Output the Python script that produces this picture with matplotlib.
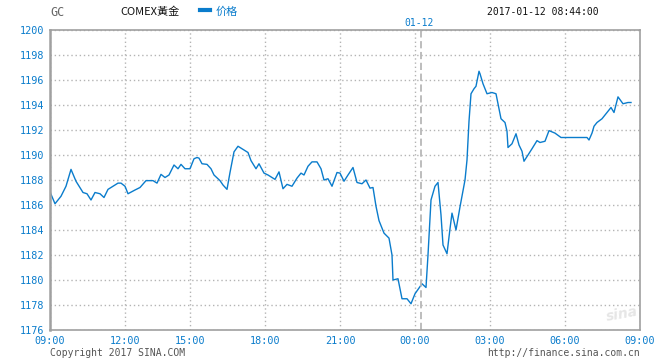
import matplotlib.pyplot as plt

# position along the session axis (0 = 09:00, 590 = next 09:00), price
pos = [0, 5, 11, 16, 21, 26, 33, 37, 41, 45, 50, 54, 58, 63, 68, 71, 75, 78, 85, 90,
       96, 103, 107, 111, 115, 119, 124, 128, 131, 135, 140, 144, 147, 149, 152, 157, 161, 164, 170, 173,
       177, 180, 184, 188, 193, 198, 201, 206, 209, 214, 218, 225, 229, 233, 237, 242, 247, 251, 254, 258,
       262, 267, 271, 274, 278, 282, 287, 290, 294, 298, 303, 307, 312, 316, 320, 323, 326, 329, 334, 339,
       342, 343, 348, 352, 357, 361, 365, 372, 376, 378, 381, 385, 388, 391, 393, 397, 400, 402, 406, 410,
       415, 417, 419, 421, 424, 426, 429, 430, 433, 437, 442, 446, 448, 451, 455, 457, 458, 462, 466, 469,
       472, 474, 478, 482, 487, 490, 495, 499, 505, 511, 537, 539, 542, 544, 547, 552, 555, 561, 564, 568,
       573, 578, 581]
price = [1187.05, 1186.1, 1186.7, 1187.5, 1188.85, 1187.9, 1187.0, 1186.9, 1186.4, 1187.0,
         1186.9, 1186.6, 1187.25, 1187.5, 1187.75, 1187.75, 1187.5, 1186.9, 1187.2, 1187.4,
         1187.95, 1187.95, 1187.75, 1188.45, 1188.2, 1188.4, 1189.2, 1188.9, 1189.25, 1188.9,
         1188.9, 1189.7, 1189.8, 1189.75, 1189.3, 1189.25, 1188.9, 1188.4, 1187.95, 1187.6,
         1187.25, 1188.6, 1190.25, 1190.7, 1190.45, 1190.2, 1189.55, 1188.9, 1189.3, 1188.55,
         1188.4, 1188.05, 1188.65, 1187.3, 1187.65, 1187.5, 1188.15, 1188.55, 1188.4, 1189.1,
         1189.45, 1189.45, 1188.9, 1188.0, 1188.1, 1187.5, 1188.6, 1188.55, 1187.9, 1188.4,
         1189.0, 1187.8, 1187.7, 1188.0, 1187.35, 1187.4, 1185.9, 1184.75, 1183.75, 1183.35,
         1182.0, 1180.0, 1180.1, 1178.5, 1178.5, 1178.1, 1178.9, 1179.7, 1179.4, 1182.0,
         1186.4, 1187.5, 1187.8, 1185.2, 1182.8, 1182.1, 1184.1, 1185.35, 1184.0, 1185.85,
         1188.0, 1189.6, 1192.7, 1194.9, 1195.3, 1195.5, 1196.7, 1196.5, 1195.7, 1194.9,
         1195.0, 1194.9, 1194.1, 1192.9, 1192.6, 1191.9, 1190.6, 1190.9, 1191.7, 1190.8,
         1190.3, 1189.5, 1190.0, 1190.5, 1191.15, 1191.0, 1191.1, 1191.95, 1191.75, 1191.4,
         1191.4, 1191.2, 1191.75, 1192.3, 1192.6, 1192.9, 1193.2, 1193.8, 1193.4, 1194.65,
         1194.1, 1194.2, 1194.2]

tick_pos = [0, 75, 140, 215, 290, 365, 440, 515, 590]
tick_labels = ["09:00", "12:00", "15:00", "18:00", "21:00", "00:00", "03:00", "06:00", "09:00"]
y_ticks = list(range(1176, 1201, 2))
date_pos = 370.5

blue = "#0a7ccc"
mono = "DejaVu Sans Mono"
cjk = ["Noto Sans CJK SC", "DejaVu Sans"]

fig = plt.figure(figsize=(6.6, 3.6), dpi=100)
ax = fig.add_axes([50 / 660, 30 / 360, 590 / 660, 300 / 360])

ax.plot(pos, price, color=blue, lw=1.0)
ax.axvline(date_pos, color="#b8b8b8", lw=1.3, ls=(0, (4, 2)))

ax.set_xlim(0, 590)
ax.set_ylim(1176, 1200)
ax.set_xticks(tick_pos)
ax.set_xticklabels(tick_labels)
ax.set_yticks(y_ticks)
ax.grid(True, color="#b4b4b4", ls=(0, (1, 2)), lw=1.0)
ax.tick_params(length=0, labelsize=7.3, labelcolor=blue, pad=4)
for lab in ax.get_xticklabels() + ax.get_yticklabels():
    lab.set_family(mono)
for s in ax.spines.values():
    s.set_color("#a0a0a0")
    s.set_linewidth(1.2)
ax.spines["left"].set_linewidth(1.8)

# header
fig.text(50 / 660, 1 - 12 / 360, "GC", color="#666666", fontsize=8.5, family=mono, va="center")
fig.text(120 / 660, 1 - 12 / 360, "COMEX黃金", color="#111111", fontsize=8, family=cjk, va="center")
fig.add_artist(plt.Line2D([200 / 660, 210 / 660], [1 - 10 / 360] * 2, color=blue, lw=3,
                          transform=fig.transFigure))
fig.text(216 / 660, 1 - 12 / 360, "价格", color=blue, fontsize=8, family=cjk, va="center")
fig.text(599 / 660, 1 - 12 / 360, "2017-01-12 08:44:00", color="#111111", fontsize=7,
         family=mono, va="center", ha="right")
fig.text(419.5 / 660, 1 - 22.5 / 360, "01-12", color=blue, fontsize=7, family=mono,
         va="center", ha="center")

# footer
fig.text(50 / 660, 1 - 353 / 360, "Copyright 2017 SINA.COM", color="#555555", fontsize=7,
         family=mono, va="center")
fig.text(640 / 660, 1 - 353 / 360, "http://finance.sina.com.cn", color="#555555", fontsize=7,
         family=mono, va="center", ha="right")
fig.text(622 / 660, 1 - 314 / 360, "sina", color="#e6e6e6", fontsize=10, style="italic",
         weight="bold", va="center", ha="center", rotation=10)

fig.savefig("out.png", dpi=100)
